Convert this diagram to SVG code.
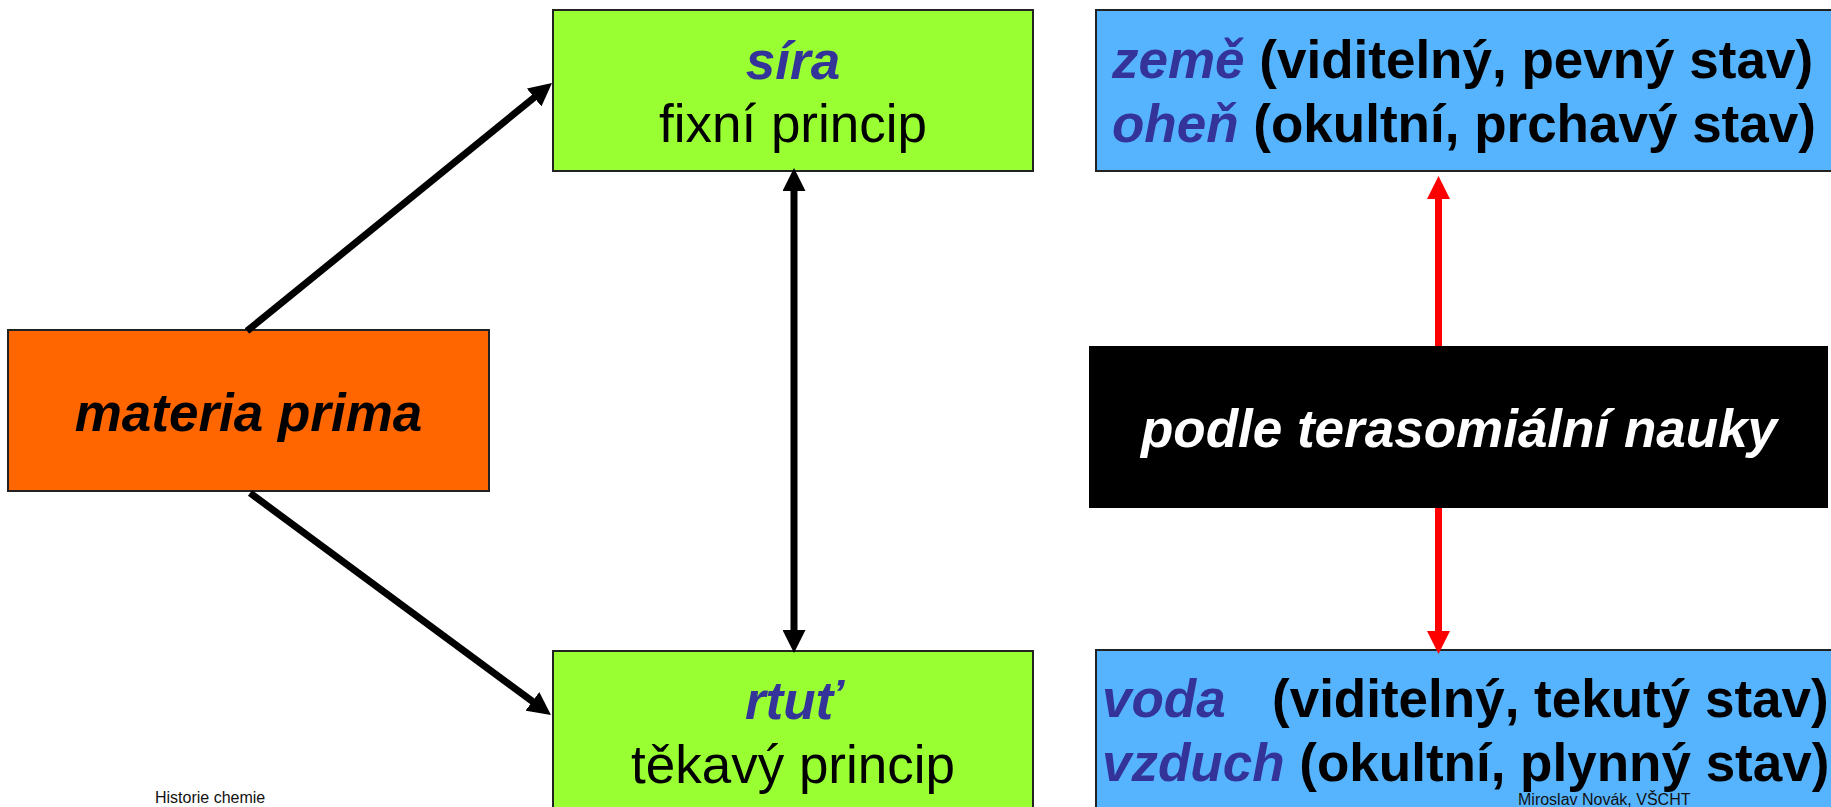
<svg xmlns="http://www.w3.org/2000/svg" width="1831" height="807" viewBox="0 0 1831 807">
<style>
  text { font-family: "Liberation Sans", Arial, sans-serif; }
  .box { stroke: #222; stroke-width: 2; }
  .main { font-size: 53px; fill: #000; }
  .bi { font-weight: bold; font-style: italic; }
  .b { font-weight: bold; }
  .blue { fill: #333399; }
  .white { fill: #fff; }
  .foot { font-size: 16px; fill: #111; }
  .conn { fill: none; stroke-width: 7; }
</style>
<defs>
  <marker id="ahBlack" viewBox="0 0 23 23" refX="11" refY="11.5" markerWidth="23" markerHeight="23" markerUnits="userSpaceOnUse" orient="auto-start-reverse">
    <path d="M0,0 L23,11.5 L0,23 z" fill="#000"/>
  </marker>
  <marker id="ahRed" viewBox="0 0 23 23" refX="11" refY="11.5" markerWidth="23" markerHeight="23" markerUnits="userSpaceOnUse" orient="auto-start-reverse">
    <path d="M0,0 L23,11.5 L0,23 z" fill="#FF0000"/>
  </marker>
</defs>
<rect width="1831" height="807" fill="#fff"/>

<g id="materia-prima">
  <rect class="box" x="8" y="330" width="481" height="161" fill="#FF6600"/>
  <text class="main bi" x="248.5" y="431" text-anchor="middle">materia prima</text>
</g>

<g id="sira">
  <rect class="box" x="553" y="10" width="480" height="161" fill="#99FF33"/>
  <text class="main bi blue" x="793" y="79" text-anchor="middle">síra</text>
  <text class="main" x="793" y="142" text-anchor="middle">fixní princip</text>
</g>

<g id="rtut">
  <rect class="box" x="553" y="651" width="480" height="170" fill="#99FF33"/>
  <text class="main bi blue" x="793" y="719" text-anchor="middle">rtuť</text>
  <text class="main" x="793" y="783" text-anchor="middle">těkavý princip</text>
</g>

<g id="zeme-ohen">
  <rect class="box" x="1096" y="10" width="740" height="161" fill="#56B4FE"/>
  <text class="main b" x="1112" y="78"><tspan class="bi blue">země</tspan> (viditelný, pevný stav)</text>
  <text class="main b" x="1112" y="142"><tspan class="bi blue">oheň</tspan> (okultní, prchavý stav)</text>
</g>

<g id="terasomialni">
  <rect x="1089" y="346" width="739" height="162" fill="#000"/>
  <text class="main bi white" x="1459" y="447" text-anchor="middle">podle terasomiální nauky</text>
</g>

<g id="voda-vzduch">
  <rect class="box" x="1096" y="650" width="740" height="170" fill="#56B4FE"/>
  <text class="main b" x="1102" y="717"><tspan class="bi blue">voda</tspan><tspan x="1272">(viditelný, tekutý stav)</tspan></text>
  <text class="main b" x="1102" y="781"><tspan class="bi blue">vzduch</tspan> (okultní, plynný stav)</text>
</g>

<g id="connectors">
  <line class="conn" x1="247" y1="331" x2="542.7" y2="90.6" stroke="#000" marker-end="url(#ahBlack)"/>
  <line class="conn" x1="250" y1="493" x2="541.3" y2="707.9" stroke="#000" marker-end="url(#ahBlack)"/>
  <line class="conn" x1="794" y1="180" x2="794" y2="641" stroke="#000" marker-start="url(#ahBlack)" marker-end="url(#ahBlack)"/>
  <line class="conn" x1="1438.5" y1="346" x2="1438.5" y2="188" stroke="#FF0000" marker-end="url(#ahRed)"/>
  <line class="conn" x1="1438.5" y1="508" x2="1438.5" y2="642" stroke="#FF0000" marker-end="url(#ahRed)"/>
</g>

<g id="footer">
  <text class="foot" x="155" y="803">Historie chemie</text>
  <text class="foot" x="1518" y="805">Miroslav Novák, VŠCHT</text>
</g>
</svg>
